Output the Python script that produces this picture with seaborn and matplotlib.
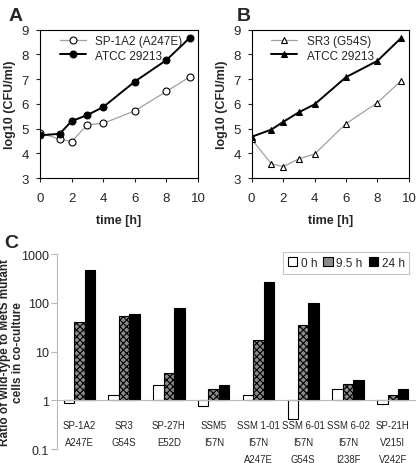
import numpy as np
import pandas as pd
import matplotlib
matplotlib.use('Agg')
from matplotlib import pyplot as plt
import seaborn as sns

# Growth curves (panels A and B)
time_h = [0, 1.25, 2, 3, 4, 6, 8, 9.5]
sp1a2 = [4.82, 4.58, 4.47, 5.16, 5.21, 5.72, 6.50, 7.10]
atcc_a = [4.73, 4.79, 5.30, 5.55, 5.87, 6.90, 7.77, 8.68]
sr3 = [4.57, 3.58, 3.46, 3.78, 3.97, 5.20, 6.05, 6.93]
atcc_b = [4.67, 4.96, 5.27, 5.66, 5.98, 7.08, 7.74, 8.66]

# Co-culture ratios (panel C)
strains = ['SP-1A2\nA247E', 'SR3\nG54S', 'SP-27H\nE52D', 'SSM5\nI57N',
           'SSM 1-01\nI57N\nA247E', 'SSM 6-01\nI57N\nG54S',
           'SSM 6-02\nI57N\nI238F', 'SP-21H\nV215I\nV242F']
times = ['0 h', '9.5 h', '24 h']
ratio_0h = [0.88, 1.3, 2.1, 0.77, 1.3, 0.41, 1.7, 0.83]
ratio_9h = [40, 54, 3.7, 1.7, 17, 36, 2.16, 1.3]
ratio_24h = [480, 60, 78, 2.06, 267, 99, 2.57, 1.7]

sns.set_style('white')
plt.rcParams['font.family'] = ['Liberation Sans', 'DejaVu Sans']
plt.rcParams['font.size'] = 9
plt.rcParams['hatch.linewidth'] = 0.8

fig = plt.figure(figsize=(4.16, 4.64), dpi=100)
ax_a = fig.add_axes([0.096, 0.614, 0.380, 0.320])
ax_b = fig.add_axes([0.605, 0.614, 0.378, 0.320])
ax_c = fig.add_axes([0.137, 0.030, 0.861, 0.420])


def growth_panel(ax, mutant, wild, mutant_name, marker):
    df = pd.DataFrame({'time': time_h * 2,
                       'cfu': mutant + wild,
                       'strain': [mutant_name] * len(time_h) + ['ATCC 29213'] * len(time_h)})
    sns.lineplot(data=df[df.strain == mutant_name], x='time', y='cfu', ax=ax,
                 color='#a0a0a0', lw=0.9, marker=marker, markersize=5,
                 markerfacecolor='white', markeredgecolor='black', markeredgewidth=0.8,
                 label=mutant_name)
    sns.lineplot(data=df[df.strain == 'ATCC 29213'], x='time', y='cfu', ax=ax,
                 color='black', lw=1.4, marker=marker, markersize=5,
                 markerfacecolor='black', markeredgecolor='black',
                 label='ATCC 29213')
    ax.set_xlim(0, 10)
    ax.set_ylim(3, 9)
    ax.set_xticks(range(0, 11, 2))
    ax.set_yticks(range(3, 10))
    ax.set_xlabel('time [h]', fontweight='bold', fontsize=9, labelpad=7)
    ax.set_ylabel('log10 (CFU/ml)', fontweight='bold', fontsize=9, labelpad=4)
    for s in ax.spines.values():
        s.set_color('black')
        s.set_linewidth(0.8)
    ax.tick_params(axis='both', direction='out', length=3, width=0.8, labelsize=9.5,
                   left=True, bottom=True, pad=5)
    ax.tick_params(axis='x', pad=7)
    ax.legend(loc='upper left', frameon=False, fontsize=8.5, handlelength=2.2,
              borderaxespad=0.2, labelspacing=0.2, bbox_to_anchor=(0.08, 1.01))


growth_panel(ax_a, sp1a2, atcc_a, 'SP-1A2 (A247E)', 'o')
growth_panel(ax_b, sr3, atcc_b, 'SR3 (G54S)', '^')

# Panel C: bars drawn on log10 values, baseline at ratio 1
df_c = pd.DataFrame({'strain': strains * 3,
                     'time': [t for t in times for _ in strains],
                     'ratio': ratio_0h + ratio_9h + ratio_24h})
df_c['log_ratio'] = np.log10(df_c['ratio'])
sns.barplot(data=df_c, x='strain', y='log_ratio', hue='time', ax=ax_c,
            palette=['white', '#8a8a8a', 'black'], edgecolor='black',
            linewidth=0.8, width=0.7, errorbar=None)
for cont, hatch in zip(ax_c.containers, ['', 'xxxxx', '']):
    for bar in cont:
        bar.set_hatch(hatch)

ax_c.set_xlim(-0.5, 7.5)
ax_c.set_ylim(-1, 3)
ax_c.set_yticks([-1, 0, 1, 2, 3])
ax_c.set_yticklabels(['0.1', '1', '10', '100', '1000'])
ax_c.set_xlabel('')
ax_c.set_ylabel('Ratio of wild-type to MetS mutant\ncells in co-culture',
                fontweight='bold', fontsize=8.5, linespacing=1.1)
ax_c.yaxis.set_label_coords(-0.092, 0.5)
ax_c.spines['top'].set_visible(False)
ax_c.spines['right'].set_visible(False)
ax_c.spines['left'].set_color('#b8b8b8')
ax_c.spines['bottom'].set_color('#b8b8b8')
ax_c.spines['bottom'].set_position(('data', 0))
ax_c.tick_params(axis='y', direction='out', length=4, color='#b8b8b8', labelsize=9,
                 left=True, pad=2)
ax_c.tick_params(axis='x', length=0, labelsize=6.9, pad=14)
for lbl in ax_c.get_xticklabels():
    lbl.set_linespacing(1.9)
leg = ax_c.legend(loc='upper right', ncol=3, fontsize=8.5, frameon=True, fancybox=False,
                  handlelength=0.8, handleheight=0.8, handletextpad=0.3, columnspacing=0.5,
                  borderpad=0.4, bbox_to_anchor=(1.0, 1.04))
leg.get_frame().set_edgecolor('#b8b8b8')
leg.get_frame().set_linewidth(0.8)

fig.text(0.02, 0.955, 'A', fontsize=14, fontweight='bold')
fig.text(0.568, 0.955, 'B', fontsize=14, fontweight='bold')
fig.text(0.01, 0.465, 'C', fontsize=14, fontweight='bold')

fig.savefig('out.png', dpi=100)
